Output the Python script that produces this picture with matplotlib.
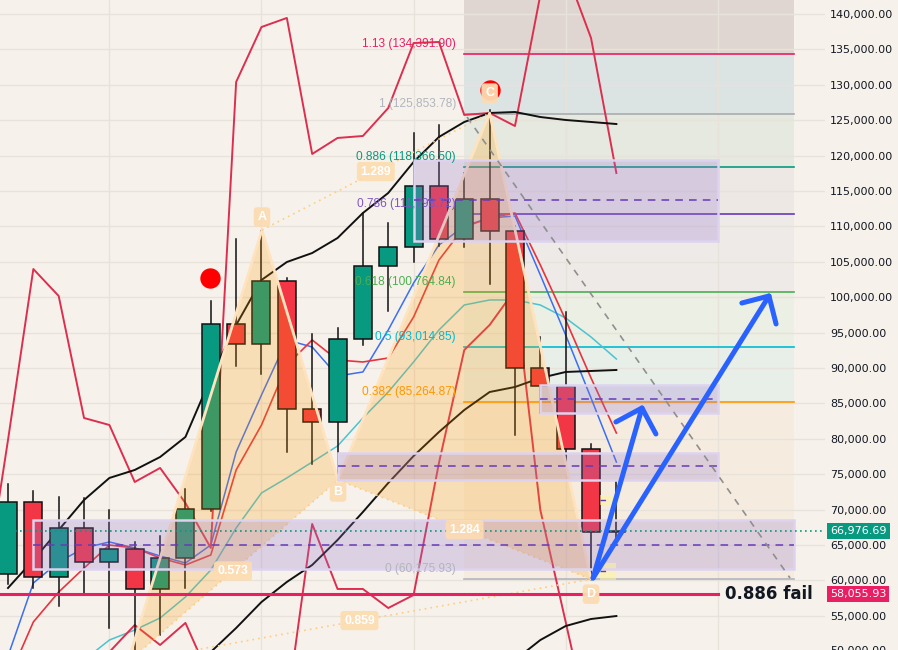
import matplotlib
matplotlib.use("Agg")
import matplotlib.pyplot as plt
import matplotlib.transforms as mtransforms
from matplotlib.patches import Rectangle, Polygon

# ---------------- data ----------------
candle_idx = list(range(25))
opens  = [60860, 71030, 60440, 67360, 62560, 64390, 58740, 63120, 70040, 96170, 93350, 102290, 84170,
          82330, 94050, 104360, 107050, 115660, 108220, 113830, 109400, 90040, 87410, 78520, 66840]
closes = [71030, 60440, 67360, 62560, 64390, 58740, 63120, 70040, 96170, 93350, 102290, 84170, 82330,
          94050, 104360, 107050, 115660, 108220, 113830, 109400, 90040, 87410, 78520, 66840, 66977]
highs  = [73620, 72630, 71780, 71680, 69940, 65470, 66270, 72910, 99460, 108220, 109400, 102670, 94760,
          95610, 111850, 110480, 123240, 124320, 117590, 126440, 110000, 94420, 97900, 79220, 73900]
lows   = [59500, 58980, 56430, 58260, 53320, 49000, 52290, 58880, 69800, 90330, 89200, 78180, 76440,
          74180, 93250, 98090, 105010, 107270, 107140, 101800, 80540, 83640, 76540, 60060, 65000]

# indicator lines
band_upper_idx = list(range(-1, 25))
band_upper = [56530, 79830, 103980, 100170, 82940, 81950, 73900, 75880, 70930, 64580, 130400, 138160,
              139440, 120230, 122490, 122770, 126720, 135900, 136050, 125740, 126020, 124180, 142680,
              146210, 136610, 117540]
band_lower_idx = list(range(3, 25))
band_lower = [43110, 49890, 53700, 50880, 54000, 45930, 40290, 40290, 41840, 67970, 58790, 58790, 56100,
              57940, 76580, 92540, 96080, 101020, 69950, 54130, 38170, 34640]
ma_black1_idx = list(range(0, 25))
ma_black1 = [58930, 62880, 67120, 71360, 74470, 75600, 77430, 80260, 88590, 96075, 102430, 104970, 106240,
             108360, 111890, 114720, 119100, 122630, 124750, 126020, 126160, 125450, 125030, 124750, 124460]
ma_black2_idx = list(range(8, 25))
ma_black2 = [49890, 53280, 56950, 59780, 62180, 65710, 69660, 73760, 77570, 80960, 84070, 86610, 87320,
             88590, 89440, 89580, 89720]
ma_black3_idx = list(range(20, 25))
ma_black3 = [48760, 51580, 53560, 54550, 54970]
ma_blue_idx = list(range(0, 25))
ma_blue = [49320, 59630, 62600, 64580, 65430, 64580, 63450, 62460, 65000, 78140, 86190, 93960, 92970,
           88870, 89440, 95370, 102010, 107370, 110060, 111190, 111470, 103140, 94660, 85760, 76720]
ma_red_idx = list(range(0, 25))
ma_red = [45930, 54130, 58360, 61750, 65000, 64580, 63170, 62180, 63590, 75600, 81950, 90420, 93960,
          91130, 90850, 91410, 97200, 105250, 109920, 111190, 111890, 104550, 96780, 88590, 80820]
ma_cyan_idx = list(range(3, 25))
ma_cyan = [48760, 51580, 53000, 54690, 57660, 61470, 67400, 72350, 74470, 76720, 78980, 82940, 86610,
           90850, 95370, 98900, 99610, 99610, 98900, 97060, 94380, 91270]

# harmonic XABCD pattern
pat_names = ["X", "A", "B", "C", "D"]
pat_idx = [4.73, 10.02, 13.02, 19.0, 23.0]
pat_price = [48480, 109490, 74180, 126000, 60176]
ratio_labels = {("X", "B"): "0.573", ("A", "C"): "1.289", ("B", "D"): "1.284", ("X", "D"): "0.859"}

# fibonacci retracement
fib_levels = ["0", "0.382", "0.5", "0.618", "0.786", "0.886", "1", "1.13"]
fib_prices = [60175.93, 85264.87, 93014.85, 100764.84, 111798.72, 118366.50, 125853.78, 134391.90]
fib_colors = ["#b2b5be", "#ff9800", "#00bcd4", "#4caf50", "#673ab7", "#089981", "#a9abb0", "#e91e63"]
fib_text_colors = ["#b2b5be", "#ff9800", "#00bcd4", "#4caf50", "#7e57c2", "#089981", "#b2b5be", "#e91e63"]
fib_zone_colors = ["#f5ecdf", "#e7efe8", "#ebefe4", "#eeeae7", "#eee8e5", "#e5e9df", "#dce4e3", "#e0d6d1"]
fib_start, fib_end = 18, 31

# zones (left idx, right idx, bottom, top)
ob_boxes = [(1, 31, 61610, 68530), (16, 28, 107980, 119380), (13, 28, 74220, 78000), (21, 28, 83650, 87600)]
fvg_boxes = [(23.35, 23.99, 70650, 72060), (23.35, 23.99, 60060, 62460)]

current_price = 66976.69
fail_price = 58055.93
fail_end = 28

grid_v = [4, 10, 16, 22, 28]
y_ticks = list(range(55000, 140001, 5000))

arrow_short = [(23.08, 60340), (25.01, 84350)]
arrow_short_wings = [(23.98, 82375), (25.56, 80680)]
arrow_long = [(23.08, 60340), (30.02, 100170)]
arrow_long_wings = [(28.95, 99180), (30.30, 96220)]
trend_dashed = [(18.11, 125450), (30.85, 60340)]
signal_dots = [(7.97, 102710), (19.0, 129270)]

# ---------------- figure ----------------
BG = "#F6F2EB"
W, H = 898, 650
fig = plt.figure(figsize=(W / 100, H / 100), dpi=100, facecolor=BG)
ax = fig.add_axes([0, 0, 825 / W, 1], facecolor=BG)
ax.set_xlim(-0.3156, 32.23)
ax.set_ylim(50171, 141977)
for s in ax.spines.values():
    s.set_visible(False)

# grid
ax.set_yticks(y_ticks)
ax.set_yticklabels([f"{v:,.2f}" for v in y_ticks])
ax.yaxis.tick_right()
ax.tick_params(axis="y", length=0, pad=3.6, labelsize=8, labelcolor="#131722")
ax.set_xticks([])
for v in y_ticks:
    ax.axhline(v, color="#e7e2da", lw=1, zorder=0.4)
for g in grid_v:
    ax.axvline(g, color="#e7e2da", lw=1, zorder=0.4)
ax.text(1 + 5 / 825, 50000, "50,000.00", transform=mtransforms.blended_transform_factory(ax.transAxes, ax.transData),
        ha="left", va="center", fontsize=8, color="#131722", clip_on=False)

# fib zones
tops = fib_prices[1:] + [141977]
for p0, p1, c in zip(fib_prices, tops, fib_zone_colors):
    ax.add_patch(Rectangle((fib_start, p0), fib_end - fib_start, p1 - p0, fc=c, ec="none", zorder=0.2))
for p, c, tc, lv in zip(fib_prices, fib_colors, fib_text_colors, fib_levels):
    ax.plot([fib_start, fib_end], [p, p], color=c, lw=1.2, zorder=1)
    ax.annotate(f"{lv} ({p:,.2f})", (17.67, p), xytext=(0, 4), textcoords="offset pixels",
                ha="right", va="bottom", color=tc, fontsize=8.6, family="Liberation Sans", zorder=8)

# indicator lines
ax.plot(ma_cyan_idx, ma_cyan, color="#4cc3cf", lw=1.1, zorder=2)
ax.plot(ma_blue_idx, ma_blue, color="#3c6ef2", lw=1.1, zorder=2)
ax.plot(ma_red_idx, ma_red, color="#e8333f", lw=1.2, zorder=2)
ax.plot(band_upper_idx, band_upper, color="#dc2f50", lw=1.4, zorder=2)
ax.plot(band_lower_idx, band_lower, color="#dc2f50", lw=1.4, zorder=2)
ax.plot(ma_black1_idx, ma_black1, color="#111111", lw=1.4, zorder=2)
ax.plot(ma_black2_idx, ma_black2, color="#111111", lw=1.4, zorder=2)
ax.plot(ma_black3_idx, ma_black3, color="#111111", lw=1.4, zorder=2)

# candles
for i, o, h, l, c in zip(candle_idx, opens, highs, lows, closes):
    col = "#089981" if c >= o else "#F23645"
    ax.plot([i, i], [l, h], color="#111111", lw=1.1, zorder=3)
    ax.add_patch(Rectangle((i - 0.355, min(o, c)), 0.71, max(abs(c - o), 60), fc=col, ec="#111111",
                           lw=1.1, zorder=3.1))

# harmonic pattern
P = dict(zip(pat_names, zip(pat_idx, pat_price)))
for tri in (("X", "A", "B"), ("B", "C", "D")):
    ax.add_patch(Polygon([P[k] for k in tri], closed=True, fc="#ff9800", ec="none", alpha=0.22, zorder=4))
ax.plot(pat_idx, pat_price, color="#ffe3bf", lw=2, zorder=4.1)
for (a, b), txt in ratio_labels.items():
    ax.plot([P[a][0], P[b][0]], [P[a][1], P[b][1]], color="#ffcc80", lw=1.2, ls=(0, (1, 2.5)), zorder=4.2)
    mx, my = (P[a][0] + P[b][0]) / 2, (P[a][1] + P[b][1]) / 2
    ax.text(mx, my, txt, ha="center", va="center", color="white", fontsize=8.8, fontweight="bold",
            family="Liberation Sans", zorder=9,
            bbox=dict(boxstyle="round,pad=0.3,rounding_size=0.25", fc="#fddcb0", ec="none", alpha=0.9))

# signal dots
for x, y in signal_dots:
    ax.scatter([x], [y], s=215, color="#ff0000", zorder=8.5, linewidths=0)

# letters
offs = {"A": 13, "B": -12, "C": 20, "D": -15}
for k in ["A", "B", "C", "D"]:
    x, y = P[k]
    ax.annotate(k, (x, y), xytext=(0, offs[k]), textcoords="offset pixels", ha="center", va="center",
                color="white", fontsize=9, fontweight="bold", family="Liberation Sans", zorder=9,
                bbox=dict(boxstyle="round,pad=0.3,rounding_size=0.25", fc="#fbdcb2", ec="none", alpha=0.95))

# boxes
for x0, x1, b, t in ob_boxes:
    ax.add_patch(Rectangle((x0, b), x1 - x0, t - b, fc="#9575cd", alpha=0.26, ec="none", zorder=4.5))
    ax.add_patch(Rectangle((x0, b), x1 - x0, t - b, fc="none", ec="#ddd3ef", lw=1.8, zorder=4.6))
    ax.plot([x0, x1], [(b + t) / 2] * 2, color="#673ab7", lw=1.1, ls=(0, (5, 4)), zorder=4.7)
for x0, x1, b, t in fvg_boxes:
    ax.add_patch(Rectangle((x0, b), x1 - x0, t - b, fc="#fff59d", alpha=0.55, ec="none", zorder=4.5))
    ax.plot([x0, x1 - 0.3], [(b + t) / 2] * 2, color="#673ab7", lw=1.0, ls=(0, (4, 3)), zorder=4.7)

# horizontal price lines
ax.axhline(current_price, color="#089981", lw=1.2, ls=(0, (1, 2)), zorder=5)
ax.plot([-0.4, fail_end], [fail_price, fail_price], color="#e91e63", lw=2.2, zorder=5)
ax.text(fail_end + 0.28, fail_price, "0.886 fail", ha="left", va="center", fontsize=12, fontweight="bold",
        color="#131722", zorder=9)

# trend line dashed
ax.plot([p[0] for p in trend_dashed], [p[1] for p in trend_dashed], color="#8f8f8f", lw=1.2,
        ls=(0, (4, 4)), zorder=5)

# arrows
for line, wings in ((arrow_short, arrow_short_wings), (arrow_long, arrow_long_wings)):
    ax.plot([line[0][0], line[1][0]], [line[0][1], line[1][1]], color="#2962ff", lw=3.6,
            solid_capstyle="round", zorder=7)
    ax.plot([wings[0][0], line[1][0], wings[1][0]], [wings[0][1], line[1][1], wings[1][1]], color="#2962ff",
            lw=3.6, solid_capstyle="round", solid_joinstyle="round", zorder=7)

# price tags
bt = mtransforms.blended_transform_factory(ax.transAxes, ax.transData)
for p, c in ((current_price, "#089981"), (fail_price, "#e91e63")):
    ax.text(1 + 5 / 825, p, f"{p:,.2f}", transform=bt, ha="left", va="center", fontsize=8, color="white",
            clip_on=False, zorder=10,
            bbox=dict(boxstyle="square,pad=0.28", fc=c, ec="none"))

fig.savefig("out.png", dpi=100, facecolor=BG)
